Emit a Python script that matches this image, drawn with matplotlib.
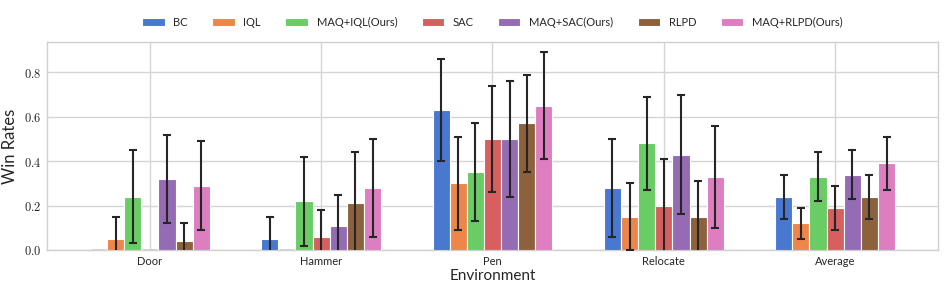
import matplotlib
matplotlib.use('Agg')
import matplotlib.pyplot as plt
import numpy as np

# 数据
envs = ['Door', 'Hammer', 'Pen', 'Relocate', 'Average']
methods = ['BC', 'IQL', 'MAQ+IQL(Ours)', 'SAC', 'MAQ+SAC(Ours)', 'RLPD', 'MAQ+RLPD(Ours)']
colors = ['#4878d0', '#ee854a', '#6acc64', '#d65f5f', '#956cb4', '#8c613c', '#dc7ec0']

# 每个方法在各环境下的均值（Door, Hammer, Pen, Relocate, Average）
bc = [0.0, 0.05, 0.63, 0.28, 0.24]
iql = [0.05, 0.0, 0.30, 0.15, 0.12]
maq_iql = [0.24, 0.22, 0.35, 0.48, 0.33]
sac = [0.0, 0.06, 0.50, 0.20, 0.19]
maq_sac = [0.32, 0.11, 0.50, 0.43, 0.34]
rlpd = [0.04, 0.21, 0.57, 0.15, 0.24]
maq_rlpd = [0.29, 0.28, 0.65, 0.33, 0.39]

# 标准差
bc_err = [0.0, 0.10, 0.23, 0.22, 0.10]
iql_err = [0.10, 0.0, 0.21, 0.15, 0.07]
maq_iql_err = [0.21, 0.20, 0.22, 0.21, 0.11]
sac_err = [0.0, 0.12, 0.24, 0.21, 0.10]
maq_sac_err = [0.20, 0.14, 0.26, 0.27, 0.11]
rlpd_err = [0.08, 0.23, 0.22, 0.16, 0.10]
maq_rlpd_err = [0.20, 0.22, 0.24, 0.23, 0.12]

means = [bc, iql, maq_iql, sac, maq_sac, rlpd, maq_rlpd]
errs = [bc_err, iql_err, maq_iql_err, sac_err, maq_sac_err, rlpd_err, maq_rlpd_err]

plt.rcParams['font.family'] = ['Lato', 'DejaVu Sans']
plt.rcParams['mathtext.fontset'] = 'cm'
plt.rcParams['text.color'] = '#262626'
plt.rcParams['axes.labelcolor'] = '#262626'
plt.rcParams['xtick.color'] = '#262626'
plt.rcParams['ytick.color'] = '#262626'

fig = plt.figure(figsize=(9.46, 2.94), dpi=100)
ax = fig.add_axes([0.0497, 0.1497, 0.9418, 0.7073])

x = np.arange(len(envs))
w = 0.1
for j, (m, e, c, name) in enumerate(zip(means, errs, colors, methods)):
    pos = x + (j - 3) * w
    m = np.array(m)
    e = np.array(e)
    ax.bar(pos, m, width=w, color=c, edgecolor='white', linewidth=0.8,
           label=name, zorder=3)
    # 零标准差的不画误差线
    keep = e > 0
    ax.errorbar(pos[keep], m[keep], yerr=e[keep], fmt='none', ecolor='#262626',
                elinewidth=1.5, capsize=3, capthick=1.5, zorder=4)
    # 零值柱画一条浅灰短线
    zero = m == 0
    ax.hlines(np.zeros(zero.sum()), pos[zero] - w * 0.4, pos[zero] + w * 0.4,
              color='#cfcfcf', linewidth=1.2, zorder=3)

ax.set_xlim(-0.6, 4.6)
ax.set_ylim(0, 0.937)
ax.set_xticks(x)
ax.set_xticklabels(envs, fontsize=8)
yt = [0.0, 0.2, 0.4, 0.6, 0.8]
ax.set_yticks(yt)
ax.set_yticklabels([f'${v:.1f}$' for v in yt], fontsize=9)
ax.tick_params(length=0, pad=4)

ax.grid(True, color='#d5d5d5', linewidth=1, zorder=0)
ax.set_axisbelow(True)
for s in ax.spines.values():
    s.set_color('#d0d0d0')
    s.set_linewidth(1)

ax.set_xlabel('Environment', fontsize=11, labelpad=2)
ax.set_ylabel('Win Rates', fontsize=12, labelpad=4)

ax.legend(loc='lower center', bbox_to_anchor=(0.5, 1.02), ncol=7, frameon=False,
          fontsize=8, handlelength=2.0, handleheight=0.8, columnspacing=2.2,
          handletextpad=0.8)

plt.savefig('out.png', dpi=100, facecolor='white')
